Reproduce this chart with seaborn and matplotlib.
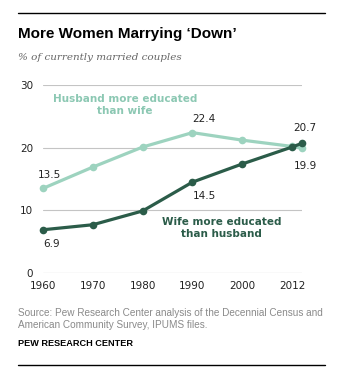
import matplotlib
matplotlib.use("Agg")
import matplotlib.pyplot as plt
import pandas as pd
import seaborn as sns

# --- Data --------------------------------------------------------------------
years = [1960, 1970, 1980, 1990, 2000, 2010, 2012]
husband_more = [13.5, 16.9, 20.1, 22.4, 21.2, 20.2, 19.9]
wife_more = [6.9, 7.7, 9.9, 14.5, 17.4, 20.1, 20.7]

tick_pos = [1960, 1970, 1980, 1990, 2000, 2010]
tick_labels = ["1960", "1970", "1980", "1990", "2000", "2012"]

LIGHT = "#9dd3bf"
LIGHT_TXT = "#8cc8b3"
DARK = "#2b5c49"
GRID = "#c4c4c4"

df = pd.DataFrame({"year": years, "husband": husband_more, "wife": wife_more})

# --- Plot --------------------------------------------------------------------
sns.set_style("white")
plt.rcParams["font.family"] = ["DejaVu Sans"]
plt.rcParams["text.color"] = "black"

W, H = 354, 390
fig = plt.figure(figsize=(W / 100, H / 100), dpi=100)
ax = fig.add_axes([43 / W, 1 - 273 / H, 259 / W, (273 - 85) / H])

sns.lineplot(data=df, x="year", y="husband", ax=ax, color=LIGHT, linewidth=2.3,
             marker="o", markersize=5.5, markeredgewidth=0, clip_on=False, zorder=3)
sns.lineplot(data=df, x="year", y="wife", ax=ax, color=DARK, linewidth=2.3,
             marker="o", markersize=5.5, markeredgewidth=0, clip_on=False, zorder=4)

ax.set_xlim(1960, 2012)
ax.set_ylim(0, 30)
ax.set_yticks([0, 10, 20, 30])
ax.set_xticks(tick_pos)
ax.set_xticklabels(tick_labels)
ax.set_xlabel("")
ax.set_ylabel("")
ax.tick_params(axis="both", length=0, labelsize=7.5, colors="#222222")
ax.tick_params(axis="y", pad=7)
ax.tick_params(axis="x", pad=6)
for v in [0, 10, 20, 30]:
    ax.axhline(v, color=GRID if v else "#9a9a9a", linewidth=0.8, zorder=1)
sns.despine(ax=ax, left=True, bottom=True)

# value labels
lab = dict(fontsize=7.5, color="#222222", ha="left", va="center")
ax.annotate("13.5", (1960, 13.5), xytext=(-4, 10), textcoords="offset points", **lab)
ax.annotate("6.9", (1960, 6.9), xytext=(0, -10), textcoords="offset points", **lab)
ax.annotate("22.4", (1990, 22.4), xytext=(0, 10), textcoords="offset points", **lab)
ax.annotate("14.5", (1990, 14.5), xytext=(0, -10), textcoords="offset points", **lab)
ax.annotate("20.7", (2012, 20.7), xytext=(-6, 11), textcoords="offset points", **lab)
ax.annotate("19.9", (2012, 19.9), xytext=(-6, -13), textcoords="offset points", **lab)

# series labels
ax.text(1976.5, 26.8, "Husband more educated\nthan wife", color=LIGHT_TXT,
        fontsize=7.5, fontweight="bold", ha="center", va="center", linespacing=1.2)
ax.text(1995.8, 7.2, "Wife more educated\nthan husband", color=DARK,
        fontsize=7.5, fontweight="bold", ha="center", va="center", linespacing=1.2)

# --- Header / footer ---------------------------------------------------------
fig.add_artist(plt.Line2D([18 / W, 325 / W], [1 - 13 / H, 1 - 13 / H],
                          color="black", linewidth=1))
fig.add_artist(plt.Line2D([18 / W, 325 / W], [1 - 365 / H, 1 - 365 / H],
                          color="black", linewidth=1))
fig.text(18 / W, 1 - 34 / H, "More Women Marrying \u2018Down\u2019",
         fontsize=11, fontweight="bold", family="Liberation Sans", color="black",
         ha="left", va="center")
fig.text(18 / W, 1 - 58 / H, "% of currently married couples",
         fontsize=7.5, style="italic", family="DejaVu Serif", color="#666666",
         ha="left", va="center")
fig.text(18 / W, 1 - 319 / H,
         "Source: Pew Research Center analysis of the Decennial Census and\n"
         "American Community Survey, IPUMS files.",
         fontsize=7.2, family="Liberation Sans", color="#8a8a8a",
         ha="left", va="center", linespacing=1.2)
fig.text(18 / W, 1 - 344 / H, "PEW RESEARCH CENTER", fontsize=6.6,
         fontweight="bold", family="Liberation Sans", color="black",
         ha="left", va="center")

fig.savefig("out.png", dpi=100)
